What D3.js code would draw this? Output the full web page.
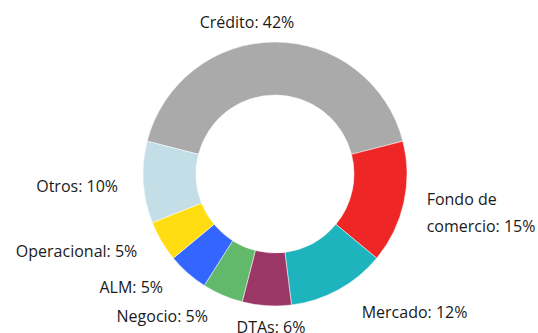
<!DOCTYPE html>
<html>
<head>
<meta charset="utf-8">
<script src="https://cdn.jsdelivr.net/npm/d3@7"></script>
<style>
  html, body { margin: 0; padding: 0; background: #fff; }
  svg { display: block; }
  text { font-family: "Open Sans", "Noto Sans", sans-serif; font-size: 16px; fill: #1a1a1a; }
</style>
</head>
<body>
<svg id="chart" width="538" height="333"></svg>
<script>
// Distribución del capital por tipo de riesgo (%)
const categories = ["Crédito", "Fondo de comercio", "Mercado", "DTAs", "Negocio", "ALM", "Operacional", "Otros"];
const shares     = [42, 15, 12, 6, 5, 5, 5, 10];
const labelLines = [["Crédito: 42%"], ["Fondo de", "comercio: 15%"], ["Mercado: 12%"], ["DTAs: 6%"],
                    ["Negocio: 5%"], ["ALM: 5%"], ["Operacional: 5%"], ["Otros: 10%"]];
const colors     = ["#aaaaaa", "#ee2626", "#1db4bd", "#9b3766", "#63b96b", "#3366ff", "#ffdd11", "#c4dee7"];

const width = 538, height = 333;
const cx = 275, cy = 174;
const outerR = 132, innerR = 79, labelR = 160;

// fine placement of each label around the ring
const labelNudge = {
  "Crédito": [-28, 8.4], "Fondo de comercio": [-4.5, 3.8], "Mercado": [9.6, -2],
  "DTAs": [6, -6.3], "Negocio": [-3.5, -4.5], "ALM": [-6.2, -6.6],
  "Operacional": [0, -4], "Otros": [2.7, 2.3]
};

const data = categories.map((c, i) => ({ name: c, value: shares[i], lines: labelLines[i], color: colors[i] }));

// first slice is centred on the top of the ring
const span = shares[0] / d3.sum(shares) * 2 * Math.PI;
const pie = d3.pie().value(d => d.value).sort(null)
  .startAngle(-span / 2).endAngle(2 * Math.PI - span / 2);

const arc = d3.arc().innerRadius(innerR).outerRadius(outerR);
const labelArc = d3.arc().innerRadius(labelR).outerRadius(labelR);

const svg = d3.select("#chart");
const g = svg.append("g").attr("transform", `translate(${cx},${cy})`);

const arcs = pie(data);

g.selectAll("path.slice")
  .data(arcs)
  .enter().append("path")
  .attr("class", "slice")
  .attr("d", arc)
  .attr("fill", d => d.data.color)
  .attr("stroke", "#ffffff")
  .attr("stroke-width", 0.5);

const lineH = 26.5;
const labels = g.selectAll("text.lbl")
  .data(arcs)
  .enter().append("text")
  .attr("class", "lbl")
  .each(function (d) {
    const [x, y] = labelArc.centroid(d);
    const mid = (d.startAngle + d.endAngle) / 2;
    const s = Math.sin(mid);
    const anchor = Math.abs(s) < 0.3 ? "middle" : (s > 0 ? "start" : "end");
    const [nx, ny] = labelNudge[d.data.name] || [0, 0];
    const n = d.data.lines.length;
    const t = d3.select(this)
      .attr("text-anchor", anchor)
      .attr("x", x + nx)
      .attr("y", y + ny);
    d.data.lines.forEach((line, i) => {
      t.append("tspan")
        .attr("x", x + nx)
        .attr("dy", i === 0 ? `${0.35 * 16 - (n - 1) * lineH / 2}px` : `${lineH}px`)
        .text(line);
    });
  });
</script>
</body>
</html>
